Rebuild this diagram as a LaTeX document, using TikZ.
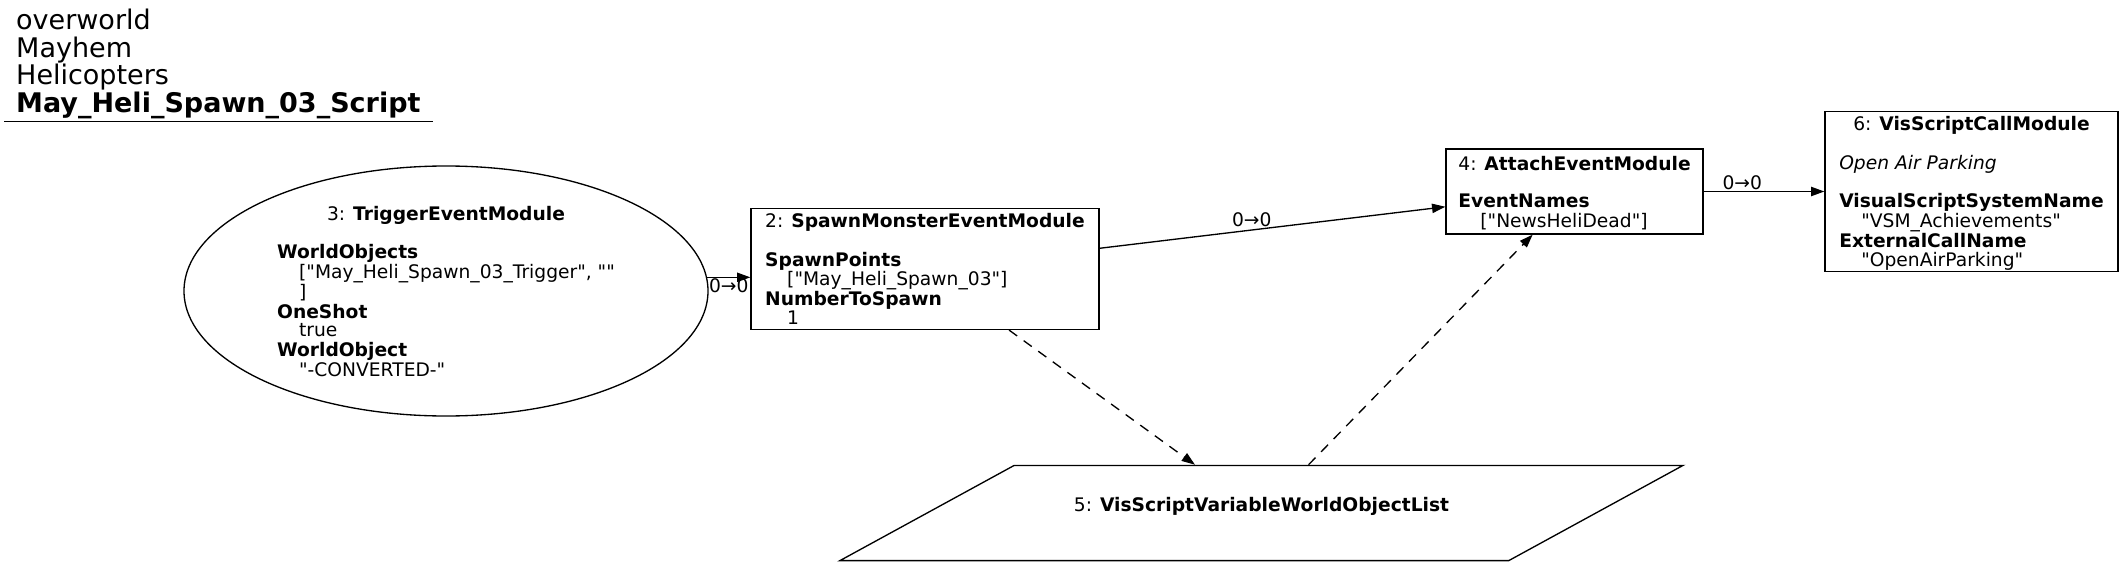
\documentclass[tikz,border=0pt]{standalone}
\usepackage{fontspec}
\setmainfont{DejaVu Sans}[Ligatures=TeXOff]
\usetikzlibrary{arrows.meta, positioning, shapes.geometric}
\newcommand{\modhead}[2]{%
    \multicolumn{1}{@{}c@{}}{#1: \textbf{#2}}}
\newcommand{\attrval}[1]{\hspace*{22pt}#1}
\newcommand{\bodyfont}{\fontsize{18.67}{18.6}\selectfont}
% tabular of a module, set a little low as in the source
\newcommand{\modtext}[2][l]{%
    \raisebox{-3pt}[\height][\depth]{%
    \begin{tabular}{@{}#1@{}}#2\end{tabular}}}

\begin{document}
\begin{tikzpicture}[x=1pt, y=-1pt,
    modbox/.style={draw, rectangle, line width=1.33pt,
                   inner xsep=10pt, inner ysep=2pt,
                   font=\bodyfont},
    modell/.style={draw, ellipse, line width=1.33pt,
                   inner sep=0pt, font=\bodyfont},
    varpar/.style={draw, trapezium, line width=1.33pt,
                   trapezium left angle=28.65,
                   trapezium right angle=151.35,
                   trapezium stretches body=true,
                   inner xsep=0pt, inner ysep=28.4pt,
                   font=\bodyfont},
    flowarr/.style={-{Triangle[length=13.3pt, width=9.3pt]},
                    line width=1.33pt},
    dataarr/.style={flowarr, dash pattern=on 10pt off 8pt},
    elab/.style={font=\bodyfont, inner sep=1pt},
    ttl/.style={align=left, inner xsep=12pt, inner ysep=3pt,
                font=\fontsize{27}{27.5}\selectfont},
]
\useasboundingbox (0,0) rectangle (2125,567);

% -- Title ----------------------------------
\node[ttl, anchor=north west] (title) at (4,6)
    {overworld\\Mayhem\\Helicopters\\%
     \textbf{May\_Heli\_Spawn\_03\_Script}};
\draw[line width=1.33pt] (title.south west) -- (title.south east);

% -- Modules --------------------------------
\node[modell, minimum width=524, minimum height=250]
    (trig) at (446,291) {\modtext{%
    \modhead{3}{TriggerEventModule}\\
    \\
    \textbf{WorldObjects}\\
    \attrval{["May\_Heli\_Spawn\_03\_Trigger", ""}\\
    \attrval{]}\\
    \textbf{OneShot}\\
    \attrval{true}\\
    \textbf{WorldObject}\\
    \attrval{"-CONVERTED-"}}};
\node[modbox, minimum width=348, minimum height=120]
    (spawn) at (925,269) {\modtext{%
    \modhead{2}{SpawnMonsterEventModule}\\
    \\
    \textbf{SpawnPoints}\\
    \attrval{["May\_Heli\_Spawn\_03"]}\\
    \textbf{NumberToSpawn}\\
    \attrval{1}}};
\node[modbox, minimum width=257, minimum height=85]
    (attach) at (1574.5,191.5) {\modtext{%
    \modhead{4}{AttachEventModule}\\
    \\
    \textbf{EventNames}\\
    \attrval{["NewsHeliDead"]}}};
\node[modbox, minimum width=293, minimum height=159]
    (call) at (1971.5,191.5) {\modtext{%
    \modhead{6}{VisScriptCallModule}\\
    \\
    \textit{Open Air Parking}\\
    \\
    \textbf{VisualScriptSystemName}\\
    \attrval{"VSM\_Achievements"}\\
    \textbf{ExternalCallName}\\
    \attrval{"OpenAirParking"}}};

% -- Variable (parallelogram) ---------------
\node[varpar, minimum width=843]
    (varlist) at (1261.5,513) {\modtext[c]{%
    5: \textbf{VisScriptVariableWorldObjectList}\\
    \\}};

% -- Flow edges -----------------------------
\draw[flowarr] (trig.3) --
    node[elab, below=0pt] {0→0}
    (trig.3 -| spawn.west);
\draw[flowarr] (spawn) --
    node[elab, pos=0.44, above=2pt] {0→0}
    (attach);
\draw[flowarr] (attach) --
    node[elab, pos=0.32, above=0pt] {0→0}
    (call);

% -- Variable links (dashed) ----------------
\draw[dataarr] (spawn) -- (varlist);
\draw[dataarr] (varlist) -- (attach);

\end{tikzpicture}
\end{document}
